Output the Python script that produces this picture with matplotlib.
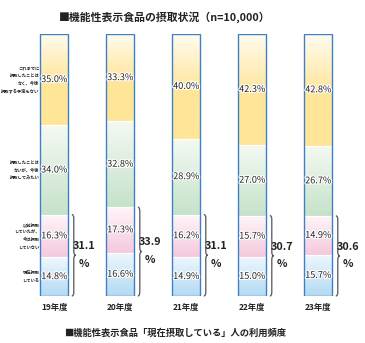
import matplotlib.pyplot as plt
import matplotlib.patheffects as pe
import numpy as np
from matplotlib.colors import to_rgb
from matplotlib.path import Path
from matplotlib.patches import PathPatch

plt.rcParams["font.family"] = ["Noto Sans CJK JP", "DejaVu Sans"]

years = ["19年度", "20年度", "21年度", "22年度", "23年度"]
current = [14.8, 16.6, 14.9, 15.0, 15.7]
former = [16.3, 17.3, 16.2, 15.7, 14.9]
want_try = [34.0, 32.8, 28.9, 27.0, 26.7]
never = [35.0, 33.3, 40.0, 42.3, 42.8]
brace_totals = ["31.1", "33.9", "31.1", "30.7", "30.6"]
row_labels = [
    "現在摂取\nしている",
    "以前摂取\nしていたが、\n今は摂取\nしていない",
    "摂取したことは\nないが、今後\n摂取してみたい",
    "これまでに\n摂取したことは\nなく、今後\n摂取する予定もない",
]

# top colour -> bottom colour of each segment gradient
grads = [
    ("#EEF7FD", "#B3DAF3"),
    ("#FFF5F9", "#F5C9DD"),
    ("#F4F9F2", "#C6E2CA"),
    ("#FFFBEE", "#FFE597"),
]

W, H = 365, 343
fig = plt.figure(figsize=(W / 100, H / 100), dpi=100)
fig.patch.set_facecolor("white")

px_x = 66.0  # pixels per category step
bar_bottom_px, bar_top_px = 296, 34
ax = fig.add_axes([0, (H - bar_bottom_px) / H, 1, (bar_bottom_px - bar_top_px) / H])
x0_px = 54.3
ax.set_xlim(-x0_px / px_x, (W - x0_px) / px_x)
ax.set_ylim(0, 100)
ax.axis("off")
px_y = (bar_bottom_px - bar_top_px) / 100.0

x = np.arange(len(years))
width = 28 / px_x
series = [current, former, want_try, never]

bottoms = np.zeros(len(years))
for s, vals in enumerate(series):
    vals = np.array(vals)
    bars = ax.bar(x, vals, width, bottom=bottoms, facecolor="none",
                  edgecolor="white", linewidth=0.8, zorder=3)
    top_c, bot_c = np.array(to_rgb(grads[s][0])), np.array(to_rgb(grads[s][1]))
    t = np.linspace(0, 1, 64)
    if s == 3:
        t = np.clip(t * 1.8, 0, 1)
    img = (top_c[None, :] * (1 - t[:, None]) + bot_c[None, :] * t[:, None])[:, None, :]
    for b in bars:
        ax.imshow(img, extent=(b.get_x(), b.get_x() + b.get_width(), b.get_y(),
                               b.get_y() + b.get_height()),
                  aspect="auto", interpolation="bilinear", zorder=2)
        ax.text(b.get_x() + b.get_width() / 2, b.get_y() + b.get_height() / 2,
                f"{b.get_height():.1f}%", ha="center", va="center", fontsize=6.6,
                color="#222222", zorder=5,
                path_effects=[pe.withStroke(linewidth=1.6, foreground="white")])
    bottoms = bottoms + vals

# outer frame of each bar
ax.bar(x, bottoms, width, facecolor="none", edgecolor="#3E80C8", linewidth=1.0, zorder=4)
ax.set_xlim(-x0_px / px_x, (W - x0_px) / px_x)
ax.set_ylim(0, 100)

# row labels on the left of the first bar
b0 = 0.0
for s, vals in enumerate(series):
    ax.text(-x0_px / px_x + 39.5 / px_x, b0 + vals[0] / 2, row_labels[s], ha="right",
            va="center", fontsize=3.1, fontweight="bold", color="#222222",
            linespacing=1.6, clip_on=False)
    b0 += vals[0]

# braces and totals
for i in range(len(years)):
    y1 = current[i] + former[i]
    xs = x[i] + width / 2 + 3.5 / px_x
    d = 2.0 / px_x
    r = 4.0 / px_y
    ym = y1 / 2
    verts = [
        (xs, y1), (xs + d, y1), (xs + d, y1 - r),
        (xs + d, ym + r),
        (xs + d, ym), (xs + 2 * d, ym),
        (xs + d, ym), (xs + d, ym - r),
        (xs + d, r),
        (xs + d, 0), (xs, 0),
    ]
    codes = [Path.MOVETO, Path.CURVE3, Path.CURVE3, Path.LINETO,
             Path.CURVE3, Path.CURVE3, Path.CURVE3, Path.CURVE3,
             Path.LINETO, Path.CURVE3, Path.CURVE3]
    ax.add_patch(PathPatch(Path(verts, codes), facecolor="none",
                           edgecolor="#555555", linewidth=0.9, clip_on=False))
    tx = xs + 2 * d + 8 / px_x
    ax.text(tx, ym + 3.5, brace_totals[i], ha="center", va="center", fontsize=7.8,
            fontweight="bold", color="#222222", clip_on=False)
    ax.text(tx, ym - 3.2, "%", ha="center", va="center", fontsize=7.8,
            fontweight="bold", color="#222222", clip_on=False)

for i, yr in enumerate(years):
    ax.text(x[i], -11 / px_y, yr, ha="center", va="center", fontsize=6,
            fontweight="bold", color="#222222", clip_on=False)

fig.text(165 / W, 1 - 17 / H, "■機能性表示食品の摂取状況（n=10,000）", ha="center",
         va="center", fontsize=7.8, fontweight="bold", color="#222222")
fig.text(175 / W, 1 - 333 / H, "■機能性表示食品「現在摂取している」人の利用頻度",
         ha="center", va="center", fontsize=6.7, fontweight="bold", color="#222222")

fig.savefig("out.png", dpi=100, facecolor="white")
